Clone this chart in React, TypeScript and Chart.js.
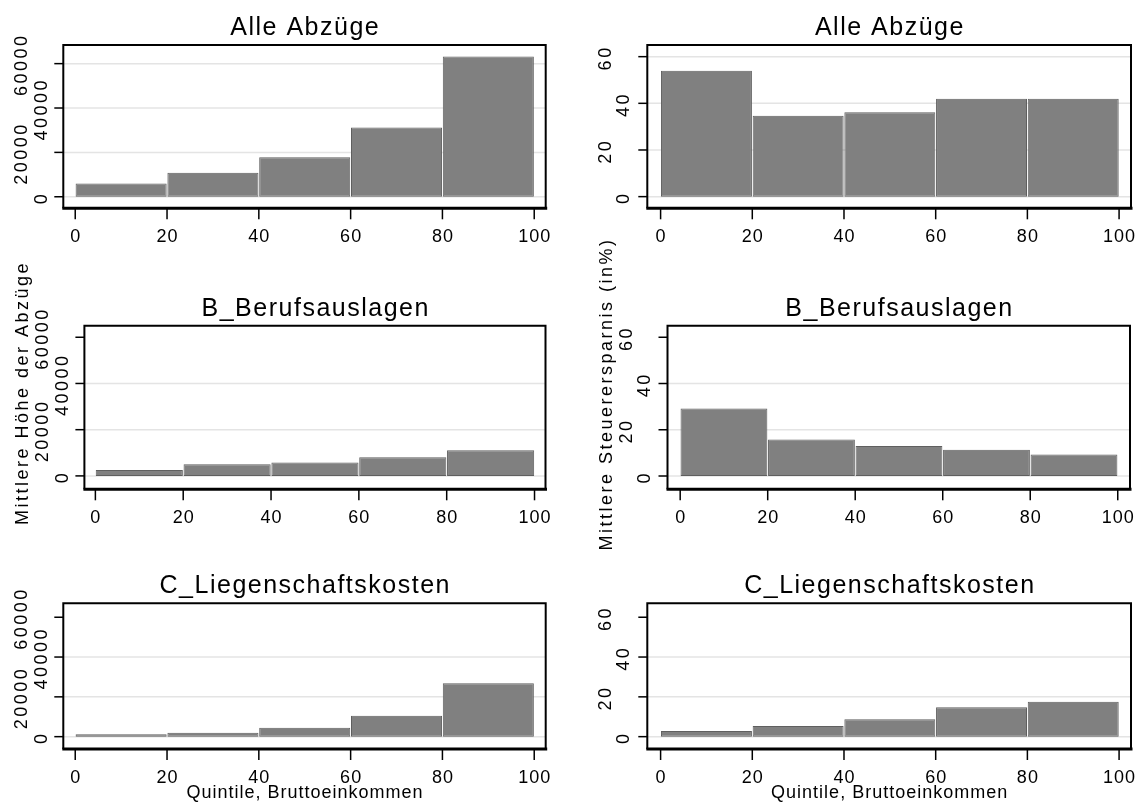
import React, { useEffect, useRef } from "react";
import { Chart, registerables } from "chart.js";

Chart.register(...registerables);

// ---------- data ----------
const binCenters = [10, 30, 50, 70, 90];
const xTickValues = [0, 20, 40, 60, 80, 100];
const yTicksHoehe = [0, 20000, 40000, 60000];
const yTicksSpar = [0, 20, 40, 60];

const hoeheAlle = [6000, 10800, 17800, 31200, 63200];
const hoeheBeruf = [2600, 5000, 5800, 8100, 11100];
const hoeheLiegen = [1200, 2000, 4500, 10500, 26800];

const sparAlle = [54, 34.7, 36.2, 42, 42];
const sparBeruf = [29.2, 15.8, 13, 11.4, 9.3];
const sparLiegen = [2.8, 5.3, 8.8, 14.8, 17.5];

const titleAlle = "Alle Abzüge";
const titleBeruf = "B_Berufsauslagen";
const titleLiegen = "C_Liegenschaftskosten";
const yTitleLeft = "Mittlere Höhe der Abzüge";
const yTitleRight = "Mittlere Steuerersparnis (in%)";
const xTitle = "Quintile, Bruttoeinkommen";

const FONT = '"Liberation Sans", Arial, Helvetica, sans-serif';

type Panel = {
  title: string;
  values: number[];
  yTicks: number[];
  yMin: number;
  yMax: number;
  xMin: number;
  xMax: number;
  left: number;
  top: number;
  width: number;
  height: number;
  pad: { left: number; top: number; right: number; bottom: number };
  gridTop: boolean;
  innerOff: number;
  outerOff: number;
  yTitle?: { text: string; x: number; y: number };
  showXTitle?: boolean;
};

const panels: Panel[] = [
  {
    title: titleAlle, values: hoeheAlle, yTicks: yTicksHoehe, yMin: -5200, yMax: 68400,
    xMin: -2.6, xMax: 102.5, left: 0, top: 0, width: 570, height: 250,
    pad: { left: 63.3, top: 45, right: 24.3, bottom: 41.7 }, gridTop: true, innerOff: 16.6, outerOff: 36.6,
  },
  {
    title: titleAlle, values: sparAlle, yTicks: yTicksSpar, yMin: -5, yMax: 65,
    xMin: -2.9, xMax: 102.6, left: 570, top: 0, width: 570, height: 250,
    pad: { left: 77.3, top: 45, right: 9, bottom: 41.7 }, gridTop: true, innerOff: 18, outerOff: 36,
  },
  {
    title: titleBeruf, values: hoeheBeruf, yTicks: yTicksHoehe, yMin: -5800, yMax: 65000,
    xMin: -2.5, xMax: 102.5, left: 0, top: 230, width: 570, height: 310,
    pad: { left: 84.4, top: 95.7, right: 24.5, bottom: 50.7 }, gridTop: false, innerOff: 16.6, outerOff: 36.6,
    yTitle: { text: yTitleLeft, x: 28, y: 163 },
  },
  {
    title: titleBeruf, values: sparBeruf, yTicks: yTicksSpar, yMin: -5.75, yMax: 65,
    xMin: -2.9, xMax: 102.8, left: 570, top: 230, width: 570, height: 330,
    pad: { left: 97.5, top: 95.7, right: 10, bottom: 70.7 }, gridTop: false, innerOff: 18, outerOff: 36,
    yTitle: { text: yTitleRight, x: 42, y: 164 },
  },
  {
    title: titleLiegen, values: hoeheLiegen, yTicks: yTicksHoehe, yMin: -6200, yMax: 67000,
    xMin: -2.6, xMax: 102.5, left: 0, top: 540, width: 570, height: 263,
    pad: { left: 63.3, top: 63.3, right: 24.3, bottom: 54 }, gridTop: false, innerOff: 16.6, outerOff: 36.6,
    showXTitle: true,
  },
  {
    title: titleLiegen, values: sparLiegen, yTicks: yTicksSpar, yMin: -6.2, yMax: 67,
    xMin: -2.9, xMax: 102.6, left: 570, top: 540, width: 570, height: 263,
    pad: { left: 77.3, top: 63.3, right: 9, bottom: 54 }, gridTop: false, innerOff: 18, outerOff: 36,
    showXTitle: true,
  },
];

function PanelChart({ p }: { p: Panel }) {
  const ref = useRef<HTMLCanvasElement>(null);

  useEffect(() => {
    if (!ref.current) return;
    const topTick = p.yTicks[p.yTicks.length - 1];

    const stataPlugin = {
      id: "stataDecor",
      beforeDatasetsDraw(chart: any) {
        const { ctx, chartArea: a, scales } = chart;
        const ys = scales.y;
        ctx.save();
        ctx.strokeStyle = "#e4e4e4";
        ctx.lineWidth = 1.5;
        p.yTicks.forEach((v) => {
          if (v === topTick && !p.gridTop) return;
          const py = ys.getPixelForValue(v);
          ctx.beginPath();
          ctx.moveTo(a.left, py);
          ctx.lineTo(a.right, py);
          ctx.stroke();
        });
        ctx.restore();
      },
      afterDatasetsDraw(chart: any) {
        const { ctx, chartArea: a, scales } = chart;
        const xs = scales.x;
        const ys = scales.y;
        ctx.save();
        ctx.strokeStyle = "#000";
        ctx.fillStyle = "#000";
        ctx.lineWidth = 2;
        ctx.beginPath();
        ctx.moveTo(a.left, a.bottom);
        ctx.lineTo(a.left, a.top);
        ctx.lineTo(a.right, a.top);
        ctx.lineTo(a.right, a.bottom);
        ctx.stroke();
        ctx.lineWidth = 3;
        ctx.beginPath();
        ctx.moveTo(a.left - 1, a.bottom);
        ctx.lineTo(a.right + 1.5, a.bottom);
        ctx.stroke();

        ctx.lineWidth = 1.5;
        p.yTicks.forEach((v) => {
          const py = ys.getPixelForValue(v);
          ctx.beginPath();
          ctx.moveTo(a.left - 9, py);
          ctx.lineTo(a.left, py);
          ctx.stroke();
        });
        xTickValues.forEach((v) => {
          const px = xs.getPixelForValue(v);
          ctx.beginPath();
          ctx.moveTo(px, a.bottom);
          ctx.lineTo(px, a.bottom + 11);
          ctx.stroke();
        });

        ctx.font = `18px ${FONT}`;
        (ctx as any).letterSpacing = "1px";
        ctx.textAlign = "center";
        ctx.textBaseline = "alphabetic";
        xTickValues.forEach((v) => {
          const px = xs.getPixelForValue(v);
          ctx.fillText(String(v), px + 0.5, a.bottom + 33.5);
        });

        (ctx as any).letterSpacing = "2.5px";
        p.yTicks.forEach((v, i) => {
          const py = ys.getPixelForValue(v);
          const bx = a.left - (i % 2 === 0 ? p.innerOff : p.outerOff);
          ctx.save();
          ctx.translate(bx, py + 1.2);
          ctx.rotate(-Math.PI / 2);
          ctx.fillText(String(v), 0, 0);
          ctx.restore();
        });

        ctx.font = `25px ${FONT}`;
        (ctx as any).letterSpacing = "1.5px";
        ctx.fillText(p.title, (a.left + a.right) / 2 + 0.75, a.top - 10);

        if (p.showXTitle) {
          ctx.font = `18px ${FONT}`;
          (ctx as any).letterSpacing = "1px";
          ctx.fillText(xTitle, (a.left + a.right) / 2 + 0.5, a.bottom + 49.3);
        }

        if (p.yTitle) {
          ctx.font = `18px ${FONT}`;
          (ctx as any).letterSpacing = "2.5px";
          ctx.save();
          ctx.translate(p.yTitle.x, p.yTitle.y);
          ctx.rotate(-Math.PI / 2);
          ctx.fillText(p.yTitle.text, 0, 0);
          ctx.restore();
        }
        ctx.restore();
      },
    };

    const chart = new Chart(ref.current, {
      type: "bar",
      data: {
        datasets: [
          {
            data: binCenters.map((x, i) => ({ x, y: p.values[i] })),
            backgroundColor: "#808080",
            borderColor: "#5f5f5f",
            borderWidth: 1,
            borderSkipped: false,
            barPercentage: 0.992,
            categoryPercentage: 1,
          } as any,
        ],
      },
      options: {
        responsive: false,
        animation: false,
        devicePixelRatio: 1,
        layout: { padding: p.pad },
        plugins: {
          legend: { display: false },
          title: { display: false },
          tooltip: { enabled: false },
        },
        scales: {
          x: { type: "linear", min: p.xMin, max: p.xMax, offset: false, display: false },
          y: { type: "linear", min: p.yMin, max: p.yMax, display: false },
        },
      },
      plugins: [stataPlugin],
    });

    return () => chart.destroy();
  }, [p]);

  return (
    <canvas
      ref={ref}
      width={p.width}
      height={p.height}
      style={{
        position: "absolute",
        left: p.left,
        top: p.top,
        width: p.width,
        height: p.height,
      }}
    />
  );
}

export default function App() {
  return (
    <div
      style={{
        position: "absolute",
        left: 0,
        top: 0,
        width: 1140,
        height: 803,
        background: "#fff",
        overflow: "hidden",
      }}
    >
      {panels.map((p, i) => (
        <PanelChart key={i} p={p} />
      ))}
    </div>
  );
}
